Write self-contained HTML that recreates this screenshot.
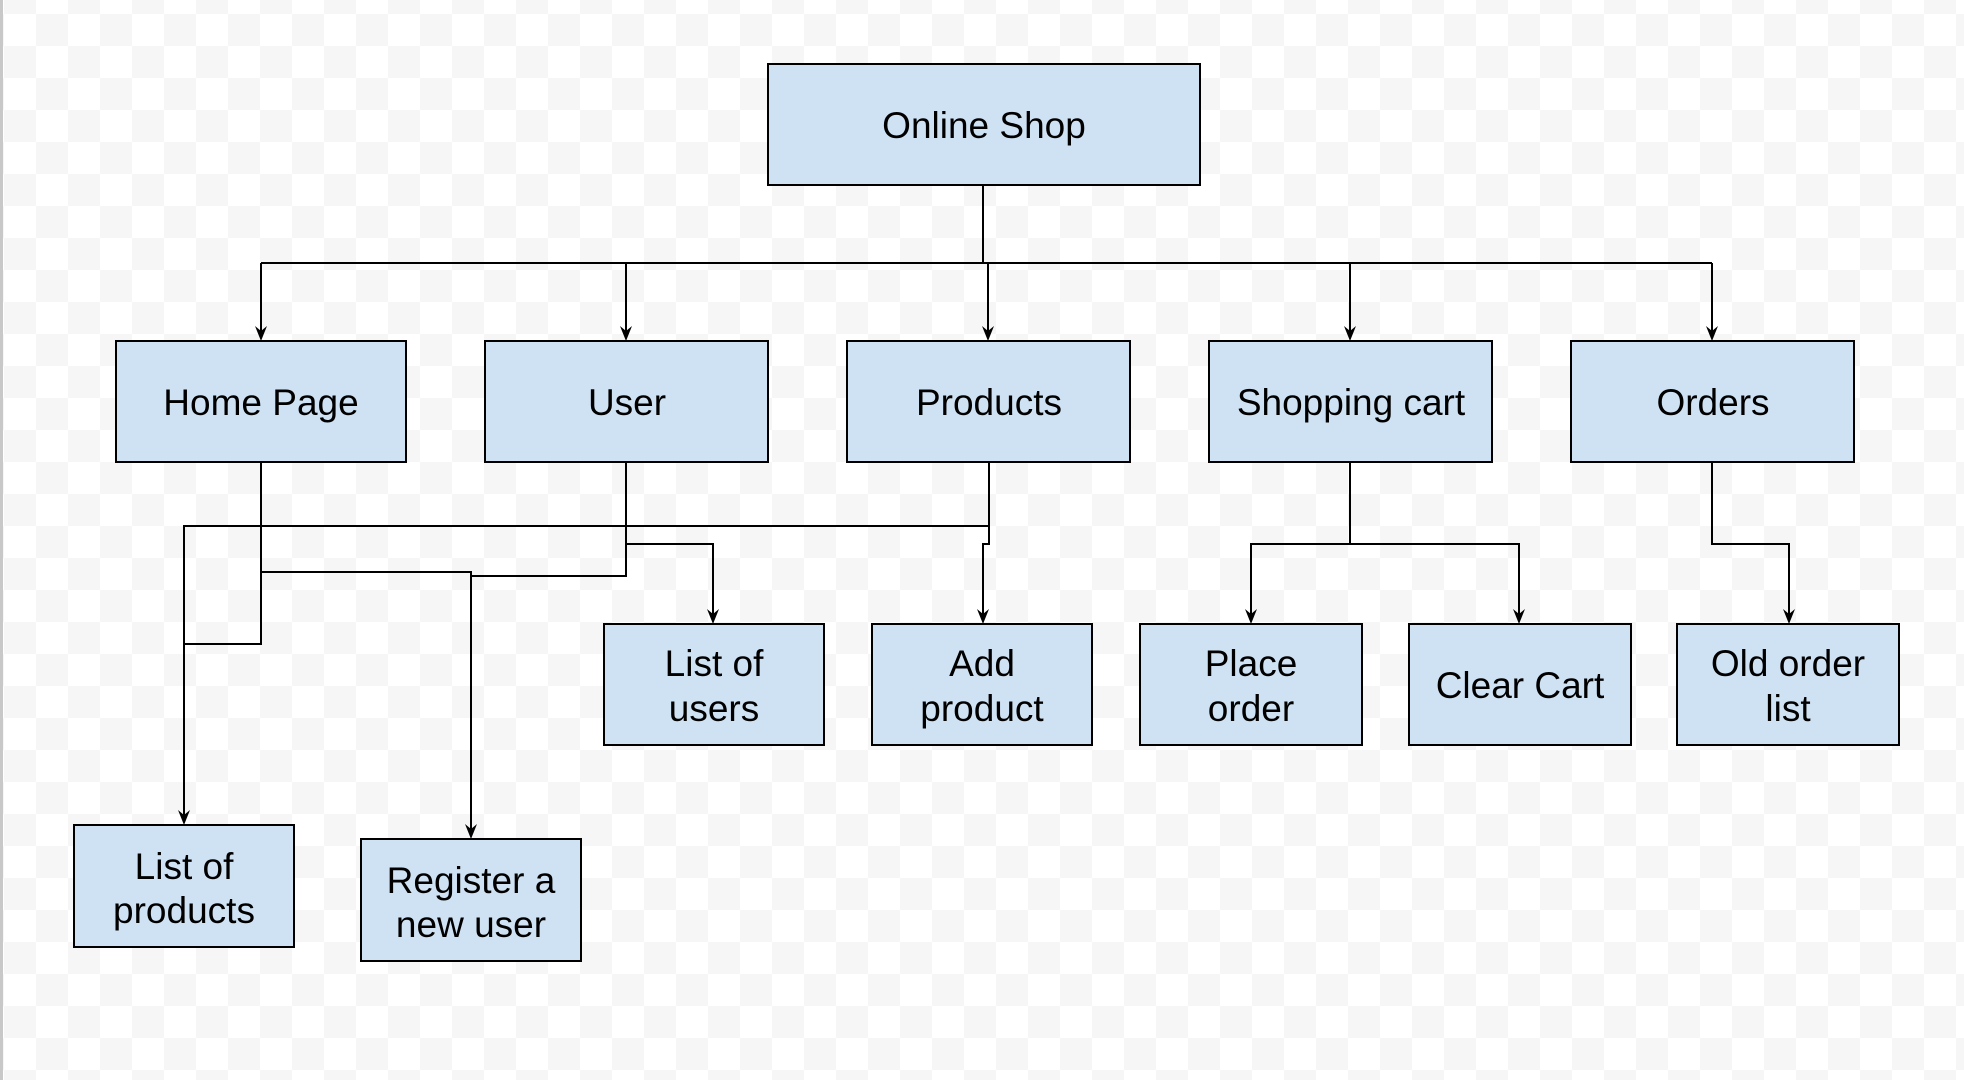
<!DOCTYPE html>
<html><head><meta charset="utf-8"><style>
html,body{margin:0;padding:0;width:1964px;height:1080px;overflow:hidden;background:#fff}
svg{display:block}
text{font-family:"Liberation Sans",Arial,sans-serif;font-size:37px;fill:#000;text-anchor:middle}
</style></head><body>
<svg width="1964" height="1080" xmlns="http://www.w3.org/2000/svg">
<defs>
<pattern id="ck" x="4" y="14" width="64" height="64" patternUnits="userSpaceOnUse">
<rect width="64" height="64" fill="#fff"/>
<rect x="32" y="0" width="32" height="32" fill="#f6f6f6"/>
<rect x="0" y="32" width="32" height="32" fill="#f6f6f6"/>
</pattern>
</defs>
<rect width="1964" height="1080" fill="url(#ck)"/>
<rect x="0" y="0" width="3" height="1080" fill="#c8c8c8"/>
<g fill="none" stroke="#000" stroke-width="2">
<path d="M983 185 V263"/>
<path d="M261 263 H1712"/>
<path d="M261 263 V332"/><path d="M626 263 V332"/><path d="M988 263 V332"/><path d="M1350 263 V332"/><path d="M1712 263 V332"/>
<path d="M989 462 V544 H983 V615"/>
<path d="M989 526 H184 V816"/>
<path d="M261 462 V644 H184"/>
<path d="M261 572 H471 V830"/>
<path d="M626 462 V576 H471"/>
<path d="M626 544 H713 V615"/>
<path d="M1350 462 V544 H1251 V615"/>
<path d="M1350 544 H1519 V615"/>
<path d="M1712 462 V544 H1789 V615"/>
</g>
<g fill="#000">
<path d="M255 326 L261 341 L267 326 L261 331 Z"/>
<path d="M620 326 L626 341 L632 326 L626 331 Z"/>
<path d="M982 326 L988 341 L994 326 L988 331 Z"/>
<path d="M1344 326 L1350 341 L1356 326 L1350 331 Z"/>
<path d="M1706 326 L1712 341 L1718 326 L1712 331 Z"/>
<path d="M977 609 L983 624 L989 609 L983 614 Z"/>
<path d="M707 609 L713 624 L719 609 L713 614 Z"/>
<path d="M1245 609 L1251 624 L1257 609 L1251 614 Z"/>
<path d="M1513 609 L1519 624 L1525 609 L1519 614 Z"/>
<path d="M1783 609 L1789 624 L1795 609 L1789 614 Z"/>
<path d="M178 810 L184 825 L190 810 L184 815 Z"/>
<path d="M465 824 L471 839 L477 824 L471 829 Z"/>
</g>
<g fill="#cfe2f3" stroke="#000" stroke-width="2">
<rect x="768" y="64" width="432" height="121"/>
<rect x="116" y="341" width="290" height="121"/>
<rect x="485" y="341" width="283" height="121"/>
<rect x="847" y="341" width="283" height="121"/>
<rect x="1209" y="341" width="283" height="121"/>
<rect x="1571" y="341" width="283" height="121"/>
<rect x="604" y="624" width="220" height="121"/>
<rect x="872" y="624" width="220" height="121"/>
<rect x="1140" y="624" width="222" height="121"/>
<rect x="1409" y="624" width="222" height="121"/>
<rect x="1677" y="624" width="222" height="121"/>
<rect x="74" y="825" width="220" height="122"/>
<rect x="361" y="839" width="220" height="122"/>
</g>
<text x="984" y="138">Online Shop</text>
<text x="261" y="415">Home Page</text>
<text x="627" y="415">User</text>
<text x="989" y="415">Products</text>
<text x="1351" y="415">Shopping cart</text>
<text x="1713" y="415">Orders</text>
<text x="714" y="676">List of</text><text x="714" y="721">users</text>
<text x="982" y="676">Add</text><text x="982" y="721">product</text>
<text x="1251" y="676">Place</text><text x="1251" y="721">order</text>
<text x="1520" y="698">Clear Cart</text>
<text x="1788" y="676">Old order</text><text x="1788" y="721">list</text>
<text x="184" y="879">List of</text><text x="184" y="923">products</text>
<text x="471" y="893">Register a</text><text x="471" y="937">new user</text>
</svg>
</body></html>
